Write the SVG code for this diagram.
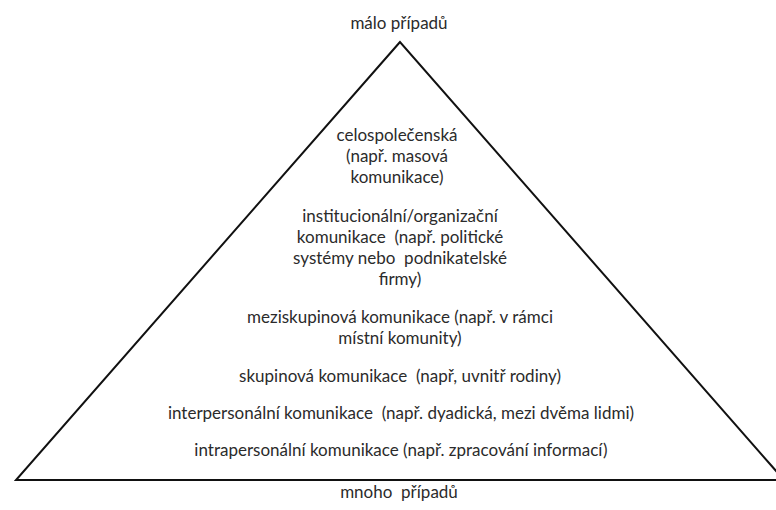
<svg xmlns="http://www.w3.org/2000/svg" width="776" height="510" viewBox="0 0 776 510">
  <style>
    .lbl { font-family: Lato, "Open Sans", "Liberation Sans", sans-serif; font-size: 17px; fill: #2b2b2b; text-anchor: middle; white-space: pre; }
    .edge { fill: none; stroke: #111; stroke-width: 2; stroke-linejoin: miter; }
  </style>
  <rect width="776" height="510" fill="#ffffff"/>

  <!-- pyramid outline -->
  <g id="pyramid">
    <polygon class="edge" points="400,42 16,480 784,480"/>
  </g>

  <!-- end labels -->
  <g id="top-label">
    <text class="lbl" x="399" y="29">málo případů</text>
  </g>
  <g id="bottom-label">
    <text class="lbl" x="399" y="498">mnoho  případů</text>
  </g>

  <!-- levels, from the apex down -->
  <g id="level-society">
    <text class="lbl" x="397" y="141">celospolečenská</text>
    <text class="lbl" x="397" y="162">(např. masová</text>
    <text class="lbl" x="397" y="183">komunikace)</text>
  </g>
  <g id="level-institutional">
    <text class="lbl" x="400" y="222">institucionální/organizační</text>
    <text class="lbl" x="400" y="243">komunikace  (např. politické</text>
    <text class="lbl" x="400" y="264">systémy nebo  podnikatelské</text>
    <text class="lbl" x="400" y="285">firmy)</text>
  </g>
  <g id="level-intergroup">
    <text class="lbl" x="400" y="323">meziskupinová komunikace (např. v rámci</text>
    <text class="lbl" x="400" y="344">místní komunity)</text>
  </g>
  <g id="level-group">
    <text class="lbl" x="400" y="382">skupinová komunikace  (např, uvnitř rodiny)</text>
  </g>
  <g id="level-interpersonal">
    <text class="lbl" x="401" y="419">interpersonální komunikace  (např. dyadická, mezi dvěma lidmi)</text>
  </g>
  <g id="level-intrapersonal">
    <text class="lbl" x="401" y="456">intrapersonální komunikace (např. zpracování informací)</text>
  </g>
</svg>
